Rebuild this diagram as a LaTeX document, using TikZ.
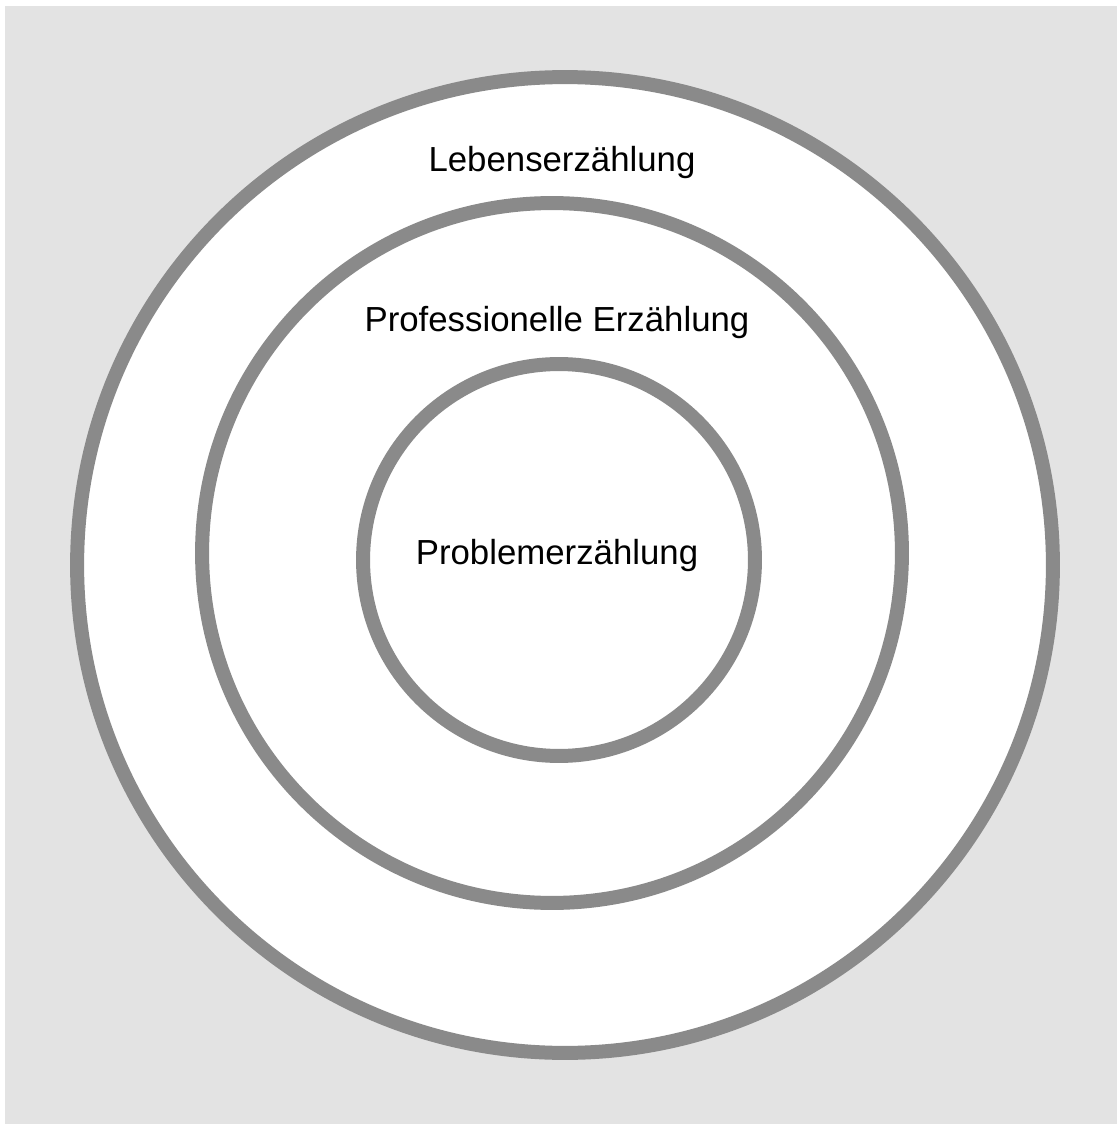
\documentclass[tikz,border=0pt]{standalone}
\usepackage{fontspec}
\setmainfont{Liberation Sans}
\usepackage{tikz}

\definecolor{ringgray}{HTML}{8A8A8A}
\definecolor{backgray}{HTML}{E3E3E3}

\begin{document}
\begin{tikzpicture}
	[x=0.02cm, y=-0.02cm,
	ring/.style = {circle, draw=ringgray, fill=white, line width=0.28cm, inner sep=0pt},
	lbl/.style = {anchor=base, inner sep=0pt, font=\fontsize{19.8}{24}\selectfont}]
\useasboundingbox (0,0) rectangle (1118,1124);
\fill[backgray] (5,6) rectangle (1117,1124);

\node[ring, minimum size=19.52cm](outer) at (565,565) {};
\node[ring, minimum size=14.00cm](middle) at (552,553) {};
\node[ring, minimum size=7.84cm](inner) at (559,560) {};

\node[lbl](leben) at (562,172) {Lebenserzählung};
\node[lbl](prof) at (557,332) {Professionelle Erzählung};
\node[lbl](problem) at (557,564) {Problemerzählung};

\end{tikzpicture}
\end{document}
